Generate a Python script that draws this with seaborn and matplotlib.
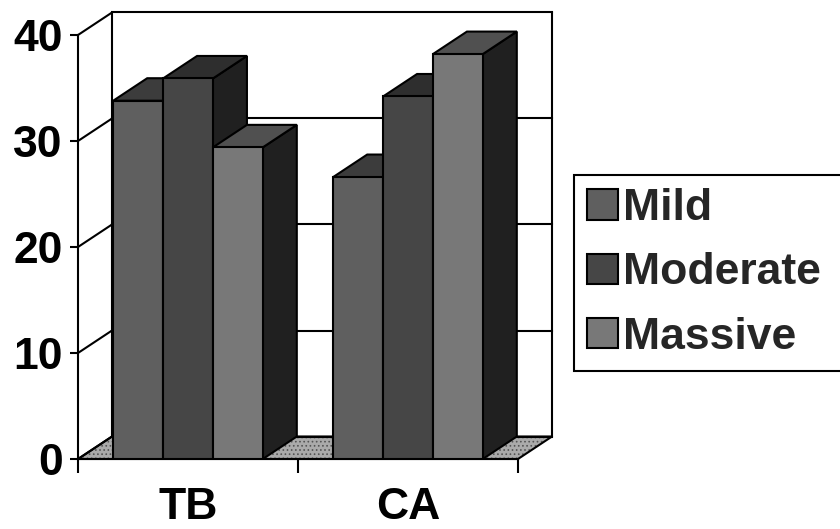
import numpy as np
import pandas as pd
import matplotlib
matplotlib.use("Agg")
import matplotlib.pyplot as plt
import seaborn as sns
from matplotlib.patches import Polygon, Patch

# Data
categories = ["TB", "CA"]
severities = ["Mild", "Moderate", "Massive"]
mild = [33.8, 26.6]
moderate = [35.9, 34.2]
massive = [29.4, 38.2]
y_ticks = [0, 10, 20, 30, 40]

# Grey shading: front faces, top faces, side faces
front_colors = {"Mild": "#5f5f5f", "Moderate": "#464646", "Massive": "#787878"}
top_colors = {"Mild": "#3c3c3c", "Moderate": "#2e2e2e", "Massive": "#505050"}
side_color = "#202020"

df = pd.DataFrame({
    "Group": categories * 3,
    "Severity": np.repeat(severities, len(categories)),
    "Percent": mild + moderate + massive,
})

sns.set_theme(style="white")
plt.rcParams["font.family"] = ["Liberation Sans", "DejaVu Sans"]
plt.rcParams["hatch.linewidth"] = 0.7

W, H = 840, 529
FS = 32
fig = plt.figure(figsize=(W / 100, H / 100), dpi=100)
fig.patch.set_facecolor("white")
ax = fig.add_axes([78 / W, (H - 459) / H, 440 / W, 424 / H])
ax.patch.set_alpha(0)

sns.barplot(data=df, x="Group", y="Percent", hue="Severity", order=categories,
            hue_order=severities, palette=front_colors, width=0.68, saturation=1,
            edgecolor="black", linewidth=1.5, legend=False, ax=ax)
ax.set_xlim(-0.5, len(categories) - 0.5)
ax.set_ylim(0, 40)
ax.set_xlabel("")
ax.set_ylabel("")

# depth offset of the pseudo-3D box (data units)
DX = 34 / 220
DY = 22.5 * 40 / 424
x_lo, x_hi = -0.5, len(categories) - 0.5
lw = 1.5

# floor
floor = [(x_lo, 0), (x_hi, 0), (x_hi + DX, DY), (x_lo + DX, DY)]
ax.add_patch(Polygon(floor, closed=True, facecolor="#aaaaaa", edgecolor="#555555",
                     hatch="....", linewidth=0, zorder=0.4, clip_on=False))
ax.add_patch(Polygon(floor, closed=True, facecolor="none", edgecolor="black",
                     linewidth=lw, zorder=0.5, clip_on=False))

# back wall with gridlines, side wall diagonals
for v in y_ticks:
    ax.plot([x_lo + DX, x_hi + DX], [v + DY, v + DY], color="black", lw=lw,
            zorder=0.5, clip_on=False, solid_capstyle="projecting")
    ax.plot([x_lo, x_lo + DX], [v, v + DY], color="black", lw=lw,
            zorder=0.5, clip_on=False)
ax.plot([x_lo + DX, x_lo + DX], [DY, 40 + DY], color="black", lw=lw, zorder=0.5, clip_on=False)
ax.plot([x_hi + DX, x_hi + DX], [DY, 40 + DY], color="black", lw=lw, zorder=0.5, clip_on=False)

# top and side faces for every bar
bars = []
for sev, cont in zip(severities, ax.containers):
    for bar in cont:
        bars.append((bar.get_x(), bar, sev))
bars.sort(key=lambda t: t[0])
for i, (_, bar, sev) in enumerate(bars):
    x0, w, h = bar.get_x(), bar.get_width(), bar.get_height()
    bar.set_zorder(3 + 2 * i)
    top = [(x0, h), (x0 + w, h), (x0 + w + DX, h + DY), (x0 + DX, h + DY)]
    side = [(x0 + w, 0), (x0 + w + DX, DY), (x0 + w + DX, h + DY), (x0 + w, h)]
    ax.add_patch(Polygon(side, closed=True, facecolor=side_color, edgecolor="black",
                         linewidth=lw, zorder=2 + 2 * i, clip_on=False))
    ax.add_patch(Polygon(top, closed=True, facecolor=top_colors[sev], edgecolor="black",
                         linewidth=lw, zorder=2 + 2 * i, clip_on=False))

# axes and ticks
for s in ["top", "right"]:
    ax.spines[s].set_visible(False)
for s in ["left", "bottom"]:
    ax.spines[s].set_color("black")
    ax.spines[s].set_linewidth(lw)
    ax.spines[s].set_zorder(1)
ax.grid(False)

ax.set_yticks(y_ticks)
ax.set_yticklabels([str(v) for v in y_ticks], fontsize=FS, fontweight="bold")
ax.tick_params(axis="y", left=True, length=6, width=lw, pad=5, color="black",
               labelcolor="black", direction="out")

ax.set_xticks(range(len(categories)))
ax.set_xticklabels(categories, fontsize=FS, fontweight="bold")
ax.set_xticks([x_lo + k for k in range(len(categories) + 1)], minor=True)
ax.tick_params(axis="x", which="major", length=0, pad=20, labelcolor="black")
ax.tick_params(axis="x", which="minor", bottom=True, length=10, width=lw,
               color="black", direction="out")

# legend box runs past the right edge of the figure
handles = [Patch(facecolor=front_colors[s], edgecolor="black", linewidth=1.5, label=s)
           for s in severities]
leg = fig.legend(handles=handles, loc="upper left", mode="expand",
                 bbox_to_anchor=(574 / W, 1 - 175 / H, 300 / W, 0.0),
                 frameon=True, fancybox=False,
                 edgecolor="black", framealpha=1, prop={"weight": "bold", "size": FS},
                 handlelength=0.68, handleheight=0.68, handletextpad=0.12,
                 borderpad=0.3, labelspacing=0.52, borderaxespad=0)
leg.get_frame().set_linewidth(1.5)

fig.savefig("out.png", dpi=100, facecolor="white")
